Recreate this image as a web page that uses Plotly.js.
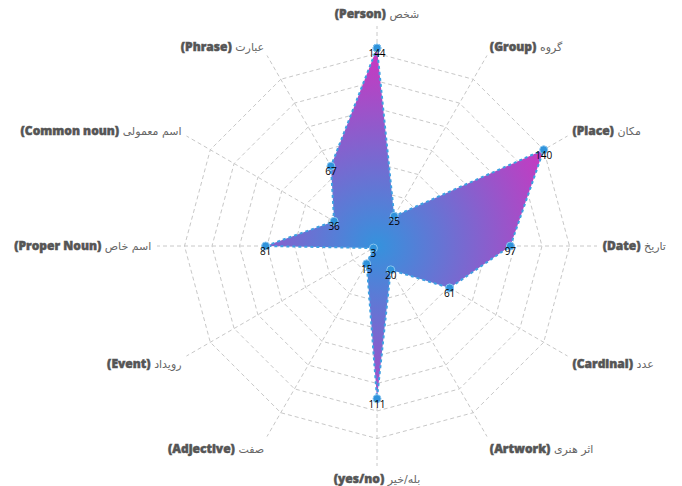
<!DOCTYPE html>
<html>
<head>
<meta charset="utf-8">
<script src="https://cdn.plot.ly/plotly-3.0.1.min.js"></script>
<style>
html,body{margin:0;padding:0;background:#fff;}
#chart{width:682px;height:486px;}
</style>
</head>
<body>
<div id="chart"></div>
<script>
// Data
var categoriesFa = ["شخص", "گروه", "مکان", "تاریخ", "عدد", "اثر هنری", "بله/خیر", "صفت", "رویداد", "اسم خاص", "اسم معمولی", "عبارت"];
var categoriesEn = ["Person", "Group", "Place", "Date", "Cardinal", "Artwork", "yes/no", "Adjective", "Event", "Proper Noun", "Common noun", "Phrase"];
var counts = [144, 25, 140, 97, 61, 20, 111, 15, 3, 81, 36, 67];

var labels = categoriesFa.map(function (fa, i) {
  return '<span style="font-family:Open Sans, Roboto, sans-serif;font-weight:800;font-size:12px;stroke:#555;stroke-width:0.5px;fill:#555">(' + categoriesEn[i] + ')</span> ' + fa;
});

var thetaClosed = labels.concat([labels[0]]);
var rClosed = counts.concat([counts[0]]);

var traces = [
  {
    type: 'scatterpolar',
    r: rClosed,
    theta: thetaClosed,
    mode: 'lines+markers',
    fill: 'toself',
    fillcolor: '#3a8fdc',
    line: { color: '#3f9fe2', width: 2, dash: 'dot' },
    marker: { size: 8, color: '#2f93db', line: { color: '#8cc6ef', width: 1 } },
    hoverinfo: 'skip',
    showlegend: false
  },
  {
    type: 'scatterpolar',
    r: counts,
    theta: labels,
    mode: 'markers+text',
    text: counts.map(String),
    textposition: 'bottom center',
    textfont: { family: 'Open Sans, Noto Sans, sans-serif', size: 10, color: '#000' },
    marker: { size: 1, color: 'rgba(0,0,0,0)' },
    hoverinfo: 'skip',
    showlegend: false
  }
];

var layout = {
  width: 682,
  height: 486,
  margin: { l: 92, r: 20, t: 26, b: 20 },
  paper_bgcolor: '#fff',
  showlegend: false,
  font: { family: 'Noto Sans, DejaVu Sans, sans-serif', size: 11, color: '#555' },
  polar: {
    bgcolor: 'rgba(0,0,0,0)',
    gridshape: 'linear',
    radialaxis: {
      range: [0, 160],
      dtick: 20,
      showticklabels: false,
      ticks: '',
      showline: false,
      gridcolor: '#c8c8c8',
      griddash: '4px,3px',
      gridwidth: 1
    },
    angularaxis: {
      direction: 'clockwise',
      rotation: 90,
      showline: false,
      ticks: 'outside',
      ticklen: 3,
      tickcolor: 'rgba(0,0,0,0)',
      gridcolor: '#c8c8c8',
      griddash: '4px,3px',
      gridwidth: 1,
      tickfont: { family: 'DejaVu Sans, Noto Sans, sans-serif', size: 11, color: '#666' }
    }
  }
};

function applyGradient(gd) {
  try {
    var svg = gd.querySelector('.main-svg');
    var sub = gd._fullLayout.polar._subplot;
    var cx = sub.cx, cy = sub.cy, R = sub.radius;
    var fillPath = gd.querySelector('.scatterlayer .trace .js-fill');
    if (!fillPath) return;
    var ns = 'http://www.w3.org/2000/svg';
    var defs = svg.querySelector('defs');
    if (!defs) { defs = document.createElementNS(ns, 'defs'); svg.insertBefore(defs, svg.firstChild); }
    var pt = svg.createSVGPoint();
    pt.x = cx; pt.y = cy;
    var lp = pt.matrixTransform(fillPath.getCTM().inverse());
    var g = document.createElementNS(ns, 'radialGradient');
    g.setAttribute('id', 'radarGrad');
    g.setAttribute('gradientUnits', 'userSpaceOnUse');
    g.setAttribute('cx', lp.x);
    g.setAttribute('cy', lp.y);
    g.setAttribute('r', R * 0.93);
    var stops = [[0, '#3592dd'], [1, '#d232bf']];
    stops.forEach(function (s) {
      var st = document.createElementNS(ns, 'stop');
      st.setAttribute('offset', s[0]);
      st.setAttribute('stop-color', s[1]);
      g.appendChild(st);
    });
    defs.appendChild(g);
    fillPath.style.fill = 'url(#radarGrad)';
    fillPath.style.fillOpacity = 1;
  } catch (e) { console.log(e); }
}

var gd = document.getElementById('chart');
Plotly.newPlot(gd, traces, layout, { displayModeBar: false, staticPlot: true }).then(function () {
  applyGradient(gd);
});
</script>
</body>
</html>
